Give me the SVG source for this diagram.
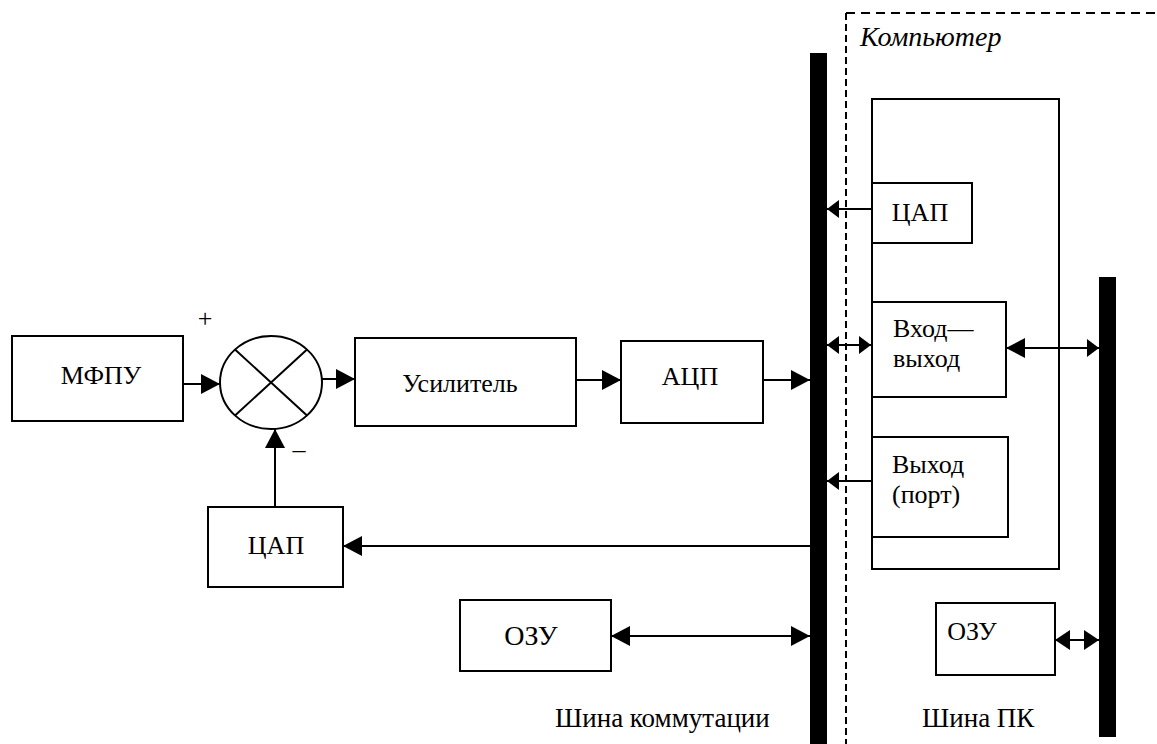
<svg xmlns="http://www.w3.org/2000/svg" width="1157" height="744" viewBox="0 0 1157 744">
<style>
.box{fill:#fff;stroke:#000;stroke-width:2}
.t{font-family:"Liberation Serif","Times New Roman",serif;font-size:26px;fill:#000}
.c{text-anchor:middle}
.ln{fill:none;stroke:#000;stroke-width:2}
.bus{fill:#000}
.dash{fill:none;stroke:#000;stroke-width:2}
</style>
<defs>
<marker id="ab" markerUnits="userSpaceOnUse" markerWidth="20" markerHeight="20" refX="19" refY="10" orient="auto-start-reverse" viewBox="0 0 20 20"><path d="M0,0 L19,10 L0,20 z" fill="#000"/></marker>
<marker id="am" markerUnits="userSpaceOnUse" markerWidth="16" markerHeight="20" refX="15" refY="10" orient="auto-start-reverse" viewBox="0 0 16 20"><path d="M0,0 L15,10 L0,20 z" fill="#000"/></marker>
<marker id="as" markerUnits="userSpaceOnUse" markerWidth="13" markerHeight="18" refX="12" refY="9" orient="auto-start-reverse" viewBox="0 0 13 18"><path d="M0,0 L12,9 L0,18 z" fill="#000"/></marker>
</defs>
<rect width="1157" height="744" fill="#fff"/>

<g id="computer-frame">
<path class="dash" d="M846,13 H1157" stroke-dasharray="9 6"/>
<path class="dash" d="M846,13 V744" stroke-dasharray="7 4"/>
<text class="t" x="860" y="46" style="font-style:italic;font-size:28px">Компьютер</text>
</g>

<g id="pc-block"><rect class="box" x="872" y="99" width="187" height="470"/></g>

<g id="bus-comm">
<rect class="bus" x="810" y="53" width="17" height="691"/>
<text class="t" x="555" y="727" style="font-size:27px">Шина коммутации</text>
</g>
<g id="bus-pc">
<rect class="bus" x="1099" y="277" width="17" height="460"/>
<text class="t" x="922" y="727" style="font-size:27px">Шина ПК</text>
</g>

<g id="connectors">
<path class="ln" d="M183,384 H220" marker-end="url(#ab)"/>
<path class="ln" d="M322,379 H355" marker-end="url(#ab)"/>
<path class="ln" d="M275,507 V429" marker-end="url(#ab)"/>
<path class="ln" d="M576,380 H621" marker-end="url(#ab)"/>
<path class="ln" d="M763,380 H810" marker-end="url(#ab)"/>
<path class="ln" d="M810,546 H343" marker-end="url(#ab)"/>
<path class="ln" d="M871,209 H827" marker-end="url(#as)"/>
<path class="ln" d="M827,345 H871" marker-start="url(#as)" marker-end="url(#as)"/>
<path class="ln" d="M1006,348 H1099" marker-start="url(#ab)" marker-end="url(#as)"/>
<path class="ln" d="M871,481 H827" marker-end="url(#as)"/>
<path class="ln" d="M611,636 H810" marker-start="url(#ab)" marker-end="url(#ab)"/>
<path class="ln" d="M1055,640 H1099" marker-start="url(#am)" marker-end="url(#am)"/>
</g>

<g id="mfpu">
<rect class="box" x="12" y="336" width="171" height="85"/>
<text class="t c" x="101" y="384">МФПУ</text>
</g>

<g id="summator">
<ellipse class="box" cx="271" cy="382.5" rx="51" ry="46.5"/>
<path class="ln" d="M235,349.5 L307,415.5 M307,349.5 L235,415.5"/>
<text class="t c" x="205" y="327">+</text>
<text class="t c" x="299" y="458">–</text>
</g>

<g id="amplifier">
<rect class="box" x="355" y="338" width="221" height="88"/>
<text class="t c" x="460" y="392">Усилитель</text>
</g>

<g id="adc">
<rect class="box" x="621" y="341" width="142" height="82"/>
<text class="t c" x="690" y="385">АЦП</text>
</g>

<g id="dac-left">
<rect class="box" x="208" y="507" width="135" height="80"/>
<text class="t c" x="276" y="554">ЦАП</text>
</g>

<g id="ram-left">
<rect class="box" x="460" y="600" width="151" height="71"/>
<text class="t c" x="531" y="645" style="font-size:28px">ОЗУ</text>
</g>

<g id="dac-pc">
<rect class="box" x="872" y="183" width="100" height="60"/>
<text class="t c" x="920" y="221">ЦАП</text>
</g>

<g id="io-pc">
<rect class="box" x="872" y="302" width="134" height="95"/>
<text class="t" x="893" y="337">Вход—</text>
<text class="t" x="893" y="367">выход</text>
</g>

<g id="out-pc">
<rect class="box" x="872" y="437" width="136" height="100"/>
<text class="t" x="892" y="473">Выход</text>
<text class="t" x="892" y="503">(порт)</text>
</g>

<g id="ram-pc">
<rect class="box" x="936" y="603" width="119" height="72"/>
<text class="t c" x="972" y="640">ОЗУ</text>
</g>
</svg>
